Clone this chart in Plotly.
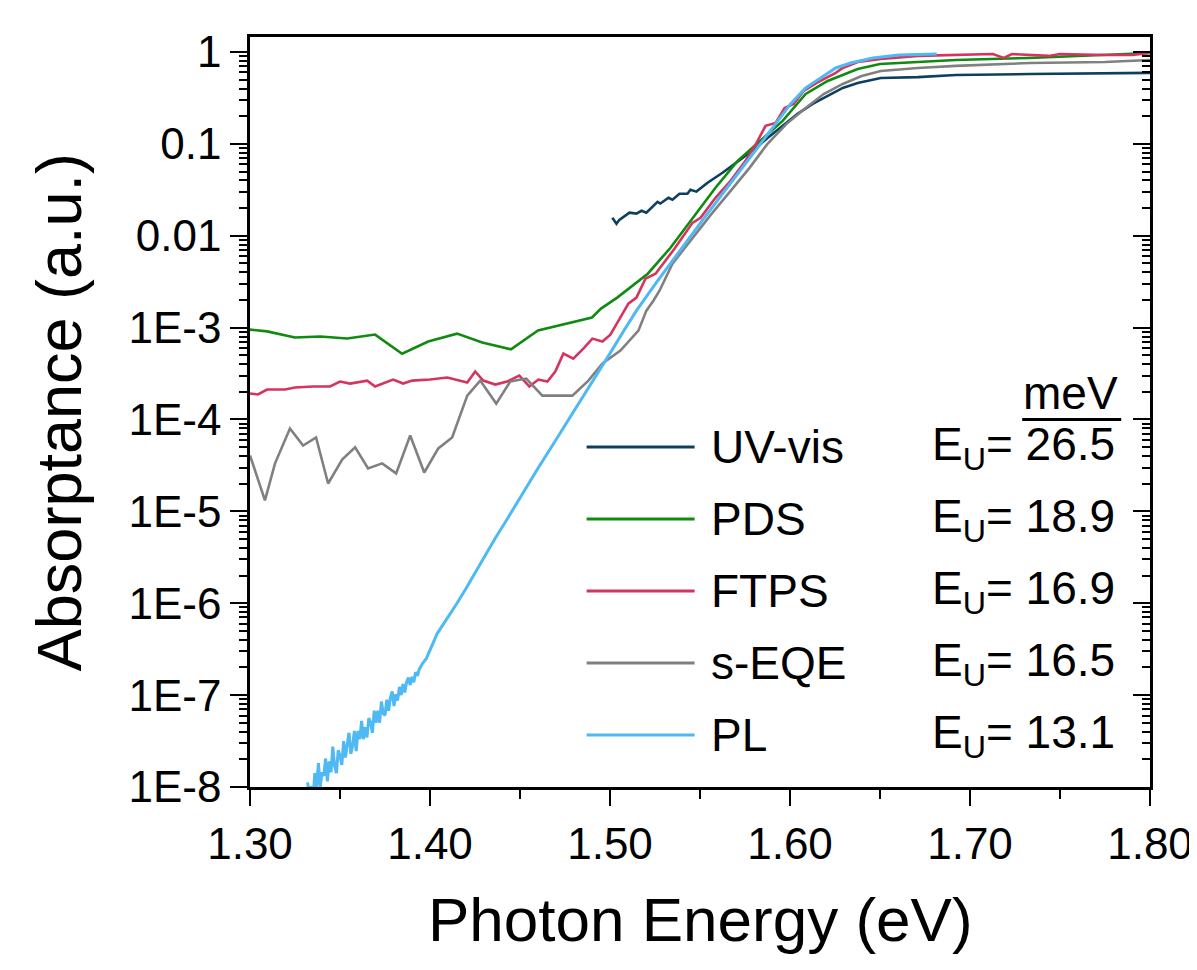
import plotly.graph_objects as go

# ---------------- data ----------------
uv_E = [1.5013, 1.5036, 1.5052, 1.5108, 1.5147, 1.5175, 1.5202, 1.5264, 1.528, 1.5325, 1.5347,
        1.5386, 1.543, 1.5447, 1.548, 1.5542, 1.5625, 1.5692, 1.5753, 1.5814, 1.5875, 1.5959,
        1.6042, 1.6126, 1.6209, 1.6293, 1.6376, 1.6504, 1.671, 1.6921, 1.7333, 1.775, 1.80]
uv_A = [0.0157, 0.0135, 0.0149, 0.0178, 0.0174, 0.0187, 0.0178, 0.0234, 0.0224, 0.0259, 0.0247,
        0.0286, 0.0286, 0.0316, 0.0302, 0.0377, 0.0484, 0.0607, 0.0742, 0.0906, 0.116, 0.157,
        0.212, 0.272, 0.333, 0.406, 0.460, 0.521, 0.533, 0.562, 0.575, 0.592, 0.592]

pds_E = [1.300, 1.3095, 1.325, 1.339, 1.354, 1.3695, 1.3845, 1.399, 1.415, 1.429, 1.445, 1.460,
         1.490, 1.495, 1.504, 1.521, 1.5336, 1.546, 1.5586, 1.5709, 1.5836, 1.5959, 1.6087,
         1.6209, 1.6376, 1.650, 1.671, 1.692, 1.733, 1.800]
pds_A = [9.5e-4, 9.1e-4, 7.8e-4, 8.0e-4, 7.6e-4, 8.4e-4, 5.2e-4, 7.05e-4, 8.6e-4, 6.9e-4, 5.8e-4,
         9.3e-4, 1.29e-3, 1.61e-3, 2.12e-3, 3.86e-3, 7.4e-3, 0.0157, 0.0333, 0.0653, 0.108, 0.178,
         0.349, 0.484, 0.653, 0.741, 0.778, 0.818, 0.861, 0.975]

ftps_E = [1.300, 1.3044, 1.3095, 1.3195, 1.325, 1.335, 1.3445, 1.350, 1.3556, 1.3651, 1.3695,
          1.3795, 1.3851, 1.3901, 1.400, 1.4096, 1.4207, 1.4251, 1.4296, 1.4363, 1.4429, 1.4496,
          1.4552, 1.4602, 1.4652, 1.4696, 1.4741, 1.4796, 1.4852, 1.4902, 1.4958, 1.5002, 1.5058,
          1.5102, 1.5147, 1.5197, 1.5253, 1.5358, 1.5458, 1.5503, 1.5586, 1.567, 1.5753, 1.5814,
          1.5864, 1.592, 1.597, 1.602, 1.6076, 1.6148, 1.6254, 1.6293, 1.6376, 1.6504, 1.671,
          1.6921, 1.7127, 1.7188, 1.7233, 1.7438, 1.75, 1.775, 1.79, 1.80]
ftps_A = [1.92e-4, 1.87e-4, 2.12e-4, 2.12e-4, 2.23e-4, 2.29e-4, 2.29e-4, 2.59e-4, 2.46e-4, 2.65e-4,
          2.29e-4, 2.72e-4, 2.46e-4, 2.65e-4, 2.72e-4, 2.86e-4, 2.52e-4, 3.33e-4, 2.65e-4, 2.40e-4,
          2.59e-4, 3.01e-4, 2.29e-4, 2.72e-4, 2.59e-4, 3.33e-4, 5.21e-4, 4.60e-4, 5.91e-4, 7.59e-4,
          7.05e-4, 8.39e-4, 1.29e-3, 1.82e-3, 2.12e-3, 3.41e-3, 3.86e-3, 7.22e-3, 0.0138, 0.0157,
          0.0259, 0.0396, 0.0653, 0.1026, 0.157, 0.169, 0.246, 0.272, 0.377, 0.460, 0.592, 0.670,
          0.778, 0.839, 0.906, 0.927, 0.949, 0.861, 0.949, 0.906, 0.949, 0.927, 0.927, 0.975]

eqe_E = [1.300, 1.3083, 1.3139, 1.3222, 1.3295, 1.3367, 1.3434, 1.3512, 1.3584, 1.3656, 1.3734,
         1.3812, 1.389, 1.3968, 1.4046, 1.4123, 1.4207, 1.4279, 1.4368, 1.4446, 1.4535, 1.4624,
         1.4791, 1.488, 1.4958, 1.5058, 1.5158, 1.5202, 1.5241, 1.5275, 1.5347, 1.5458, 1.5564,
         1.567, 1.5775, 1.5875, 1.5981, 1.6087, 1.6187, 1.6293, 1.6398, 1.6504, 1.671, 1.6921,
         1.7333, 1.775, 1.80]
eqe_A = [4.06e-5, 1.32e-5, 3.33e-5, 7.98e-5, 5.21e-5, 6.37e-5, 2.01e-5, 3.67e-5, 4.97e-5, 2.93e-5,
         3.33e-5, 2.59e-5, 6.70e-5, 2.65e-5, 4.84e-5, 6.37e-5, 1.82e-4, 2.65e-4, 1.49e-4, 2.59e-4,
         2.79e-4, 1.82e-4, 1.82e-4, 2.65e-4, 4.07e-4, 5.62e-4, 9.27e-4, 1.53e-3, 1.96e-3, 2.52e-3,
         4.97e-3, 9.5e-3, 0.0173, 0.0308, 0.0548, 0.100, 0.165, 0.246, 0.349, 0.449, 0.548, 0.621,
         0.670, 0.705, 0.759, 0.778, 0.818]

# PL: energies and log10 of absorptance
pl_E = [1.332, 1.333, 1.334, 1.335, 1.336, 1.337, 1.338, 1.339, 1.340, 1.341, 1.342, 1.343,
        1.344, 1.345, 1.346, 1.347, 1.348, 1.349, 1.350, 1.351, 1.352, 1.353, 1.354, 1.355,
        1.356, 1.357, 1.358, 1.359, 1.360, 1.361, 1.362, 1.363, 1.364, 1.365, 1.366, 1.367,
        1.368, 1.369, 1.370, 1.371, 1.372, 1.373, 1.374, 1.375, 1.376, 1.377, 1.378, 1.379,
        1.380, 1.381, 1.382, 1.383, 1.384, 1.385, 1.386, 1.387, 1.388, 1.389, 1.390, 1.391,
        1.392, 1.393, 1.394, 1.396, 1.398, 1.400, 1.402, 1.404, 1.407, 1.410, 1.415, 1.420,
        1.425, 1.430, 1.436, 1.443, 1.450, 1.460, 1.470, 1.480, 1.490, 1.500, 1.5075, 1.5147,
        1.5253, 1.5375, 1.5503, 1.5625, 1.5753, 1.5836, 1.592, 1.6003, 1.6087, 1.617, 1.6254,
        1.6337, 1.646, 1.6604, 1.6754, 1.6815]
pl_logA = [-7.95, -8.11, -7.99, -8.14, -7.85, -8.00, -7.74, -8.00, -7.84, -7.88, -7.69, -7.94,
           -7.72, -7.84, -7.56, -7.77, -7.85, -7.60, -7.66, -7.76, -7.50, -7.68, -7.54, -7.41,
           -7.64, -7.55, -7.39, -7.61, -7.39, -7.48, -7.28, -7.48, -7.35, -7.46, -7.25, -7.30,
           -7.41, -7.17, -7.30, -7.17, -7.30, -7.07, -7.20, -7.22, -7.05, -7.17, -7.03, -6.96,
           -7.12, -6.99, -7.06, -6.91, -7.00, -6.88, -6.97, -6.86, -6.81, -6.89, -6.80, -6.86,
           -6.75, -6.79, -6.72, -6.65, -6.60, -6.50, -6.42, -6.33, -6.24, -6.16, -6.00, -5.84,
           -5.67, -5.51, -5.30, -5.08, -4.85, -4.53, -4.22, -3.91, -3.59, -3.28, -3.04, -2.815,
           -2.522, -2.196, -1.859, -1.543, -1.217, -1.00, -0.783, -0.565, -0.391, -0.283, -0.174,
           -0.120, -0.065, -0.033, -0.022, -0.022]
pl_A = [10.0 ** v for v in pl_logA]

names = ["UV-vis", "PDS", "FTPS", "s-EQE", "PL"]
eu_values = ["26.5", "18.9", "16.9", "16.5", "13.1"]
colors = ["#0f3f5f", "#108a10", "#d6335f", "#808080", "#4fb9f3"]

y_tickvals = [1e-8, 1e-7, 1e-6, 1e-5, 1e-4, 1e-3, 1e-2, 1e-1, 1]
y_ticktext = ["1E-8", "1E-7", "1E-6", "1E-5", "1E-4", "1E-3", "0.01", "0.1", "1"]
y_minor = [k * 10.0 ** n for n in range(-8, 1) for k in range(2, 10)]

FONT = "Arial, Liberation Sans, sans-serif"

fig = go.Figure()
series = [(uv_E, uv_A), (pds_E, pds_A), (ftps_E, ftps_A), (eqe_E, eqe_A), (pl_E, pl_A)]
widths = [2.6, 2.6, 2.6, 2.6, 3.0]
for (ex, ay), nm, c, w in zip(series, names, colors, widths):
    fig.add_trace(go.Scatter(x=ex, y=ay, mode="lines", name=nm,
                             line=dict(color=c, width=w), showlegend=False))

# invisible trace to carry the mirrored right axis
fig.add_trace(go.Scatter(x=[1.5], y=[0.1], yaxis="y2", mode="markers",
                         marker=dict(opacity=0), showlegend=False, hoverinfo="skip"))

axis_font = dict(family=FONT, size=44, color="black")

# page body has an 8px margin, so the figure is 8px smaller and shifted
fig.update_layout(
    width=1189, height=962,
    margin=dict(l=242, r=47, t=29, b=183, autoexpand=False),
    paper_bgcolor="white", plot_bgcolor="white",
    font=dict(family=FONT, color="black"),
    xaxis=dict(range=[1.30, 1.80], tickvals=[1.3, 1.4, 1.5, 1.6, 1.7, 1.8],
               ticktext=["1.30", "1.40", "1.50", "1.60", "1.70", "1.80"],
               ticks="outside", ticklen=16, tickwidth=2, tickcolor="black",
               minor=dict(tickvals=[1.35, 1.45, 1.55, 1.65, 1.75], ticks="outside",
                          ticklen=9, tickwidth=2, tickcolor="black"),
               showline=True, linewidth=2.5, linecolor="black", mirror=True,
               showgrid=False, zeroline=False, tickfont=axis_font, automargin=False),
    yaxis=dict(type="log", range=[-8, 0.163], tickvals=y_tickvals, ticktext=y_ticktext,
               ticks="outside", ticklen=17, tickwidth=2, tickcolor="black",
               minor=dict(tickvals=y_minor, ticks="outside", ticklen=8, tickwidth=2,
                          tickcolor="black"),
               showline=True, linewidth=2.5, linecolor="black",
               showgrid=False, zeroline=False, tickfont=axis_font, automargin=False),
    yaxis2=dict(type="log", range=[-8, 0.163], overlaying="y", side="right", anchor="x",
                tickvals=y_tickvals, showticklabels=False,
                ticks="inside", ticklen=17, tickwidth=2, tickcolor="black",
                minor=dict(tickvals=y_minor, ticks="inside", ticklen=8, tickwidth=2,
                           tickcolor="black"),
                showline=True, linewidth=2.5, linecolor="black",
                showgrid=False, zeroline=False, automargin=False),
)

# axis titles
fig.add_annotation(text="Photon Energy (eV)", xref="paper", yref="paper", x=0.5, y=-0.177,
                   xanchor="center", yanchor="middle", showarrow=False,
                   font=dict(family=FONT, size=62, color="black"))
fig.add_annotation(text="Absorptance (a.u.)", xref="paper", yref="paper", x=-0.212, y=0.5,
                   xanchor="center", yanchor="middle", textangle=-90, showarrow=False,
                   font=dict(family=FONT, size=63, color="black"))

# legend drawn manually
row_y = [0.4533, 0.3573, 0.2613, 0.1653, 0.0693]
for nm, c, eu, ry in zip(names, colors, eu_values, row_y):
    fig.add_shape(type="line", xref="paper", yref="paper", x0=0.374, x1=0.494, y0=ry, y1=ry,
                  line=dict(color=c, width=3))
    fig.add_annotation(text=nm, xref="paper", yref="paper", x=0.51, y=ry, xanchor="left",
                       yanchor="middle", showarrow=False,
                       font=dict(family=FONT, size=46, color="black"))
    fig.add_annotation(text="E<sub>U</sub>= " + eu, xref="paper", yref="paper", x=0.755, y=ry,
                       xanchor="left", yanchor="middle", showarrow=False,
                       font=dict(family=FONT, size=46, color="black"))

fig.add_annotation(text="meV", xref="paper", yref="paper", x=0.912, y=0.525,
                   xanchor="center", yanchor="middle", showarrow=False,
                   font=dict(family=FONT, size=46, color="black"))
fig.add_shape(type="line", xref="paper", yref="paper", x0=0.858, x1=0.968, y0=0.49, y1=0.49,
              line=dict(color="black", width=3))

fig.write_html("out.html")
